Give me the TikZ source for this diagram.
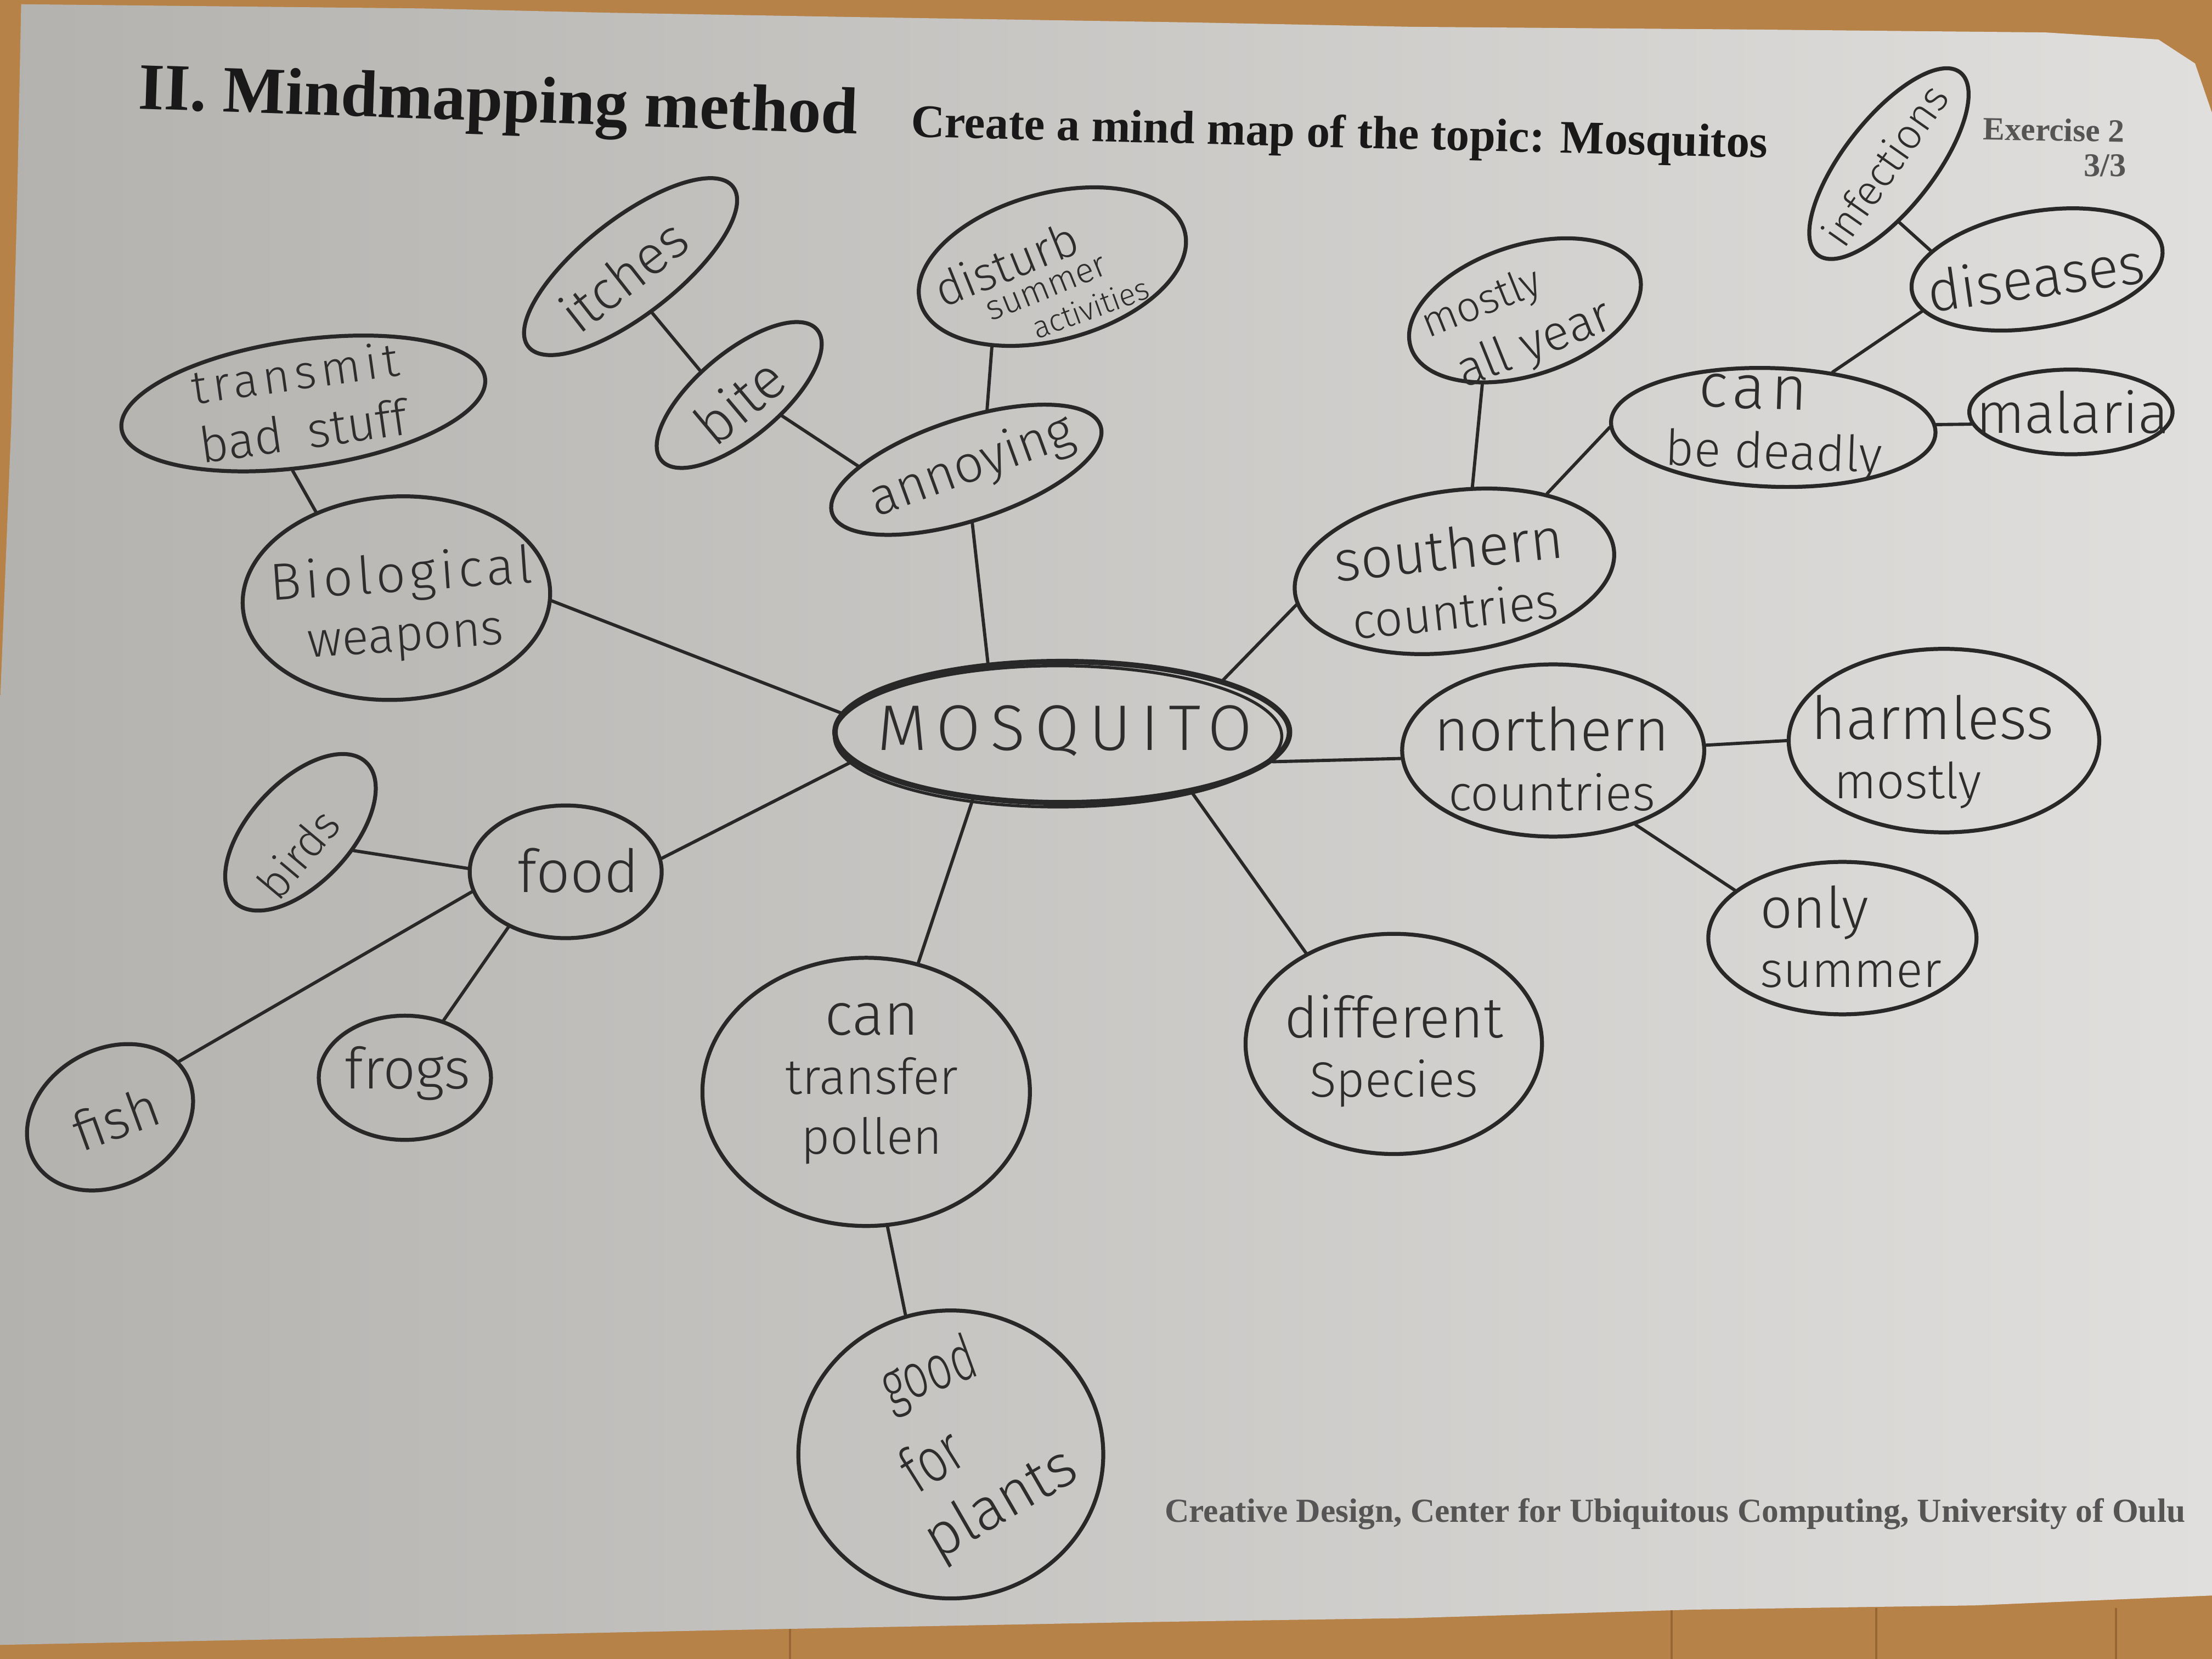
\documentclass[tikz,border=0pt]{standalone}
\usepackage{fontspec}
\setmainfont{Liberation Serif}
\newfontfamily\hand{Fira Sans Light}
\usetikzlibrary{shapes.geometric}

\definecolor{wood}{RGB}{182,130,72}
\definecolor{woodgrain}{RGB}{150,102,52}
\definecolor{paperL}{RGB}{180,178,175}
\definecolor{paperR}{RGB}{224,223,221}
\definecolor{ink}{RGB}{40,40,40}
\definecolor{pencil}{RGB}{45,45,45}
\definecolor{printink}{RGB}{25,25,25}
\definecolor{greyprint}{RGB}{85,85,85}
\newcommand{\hsz}[2]{\fontsize{#1}{#2}\selectfont}

\begin{document}
\begin{tikzpicture}[x=0.01cm, y=-0.01cm,
  bubble/.style={ellipse, draw=ink, line width=0.8pt, inner sep=0pt},
  hw/.style={inner sep=0pt, text=pencil, font=\hand, align=center},
  link/.style={draw=ink, line width=0.65pt, line cap=round},
  printed/.style={inner sep=0pt, text=printink, font=\bfseries}]

\useasboundingbox (0,0) rectangle (1568,1176);

% table top and sheet of paper
\fill[wood] (0,0) rectangle (1568,1176);
\foreach \gx in {560,1185,1330,1500}
  \draw[woodgrain, line width=0.4pt] (\gx,1140) -- (\gx,1176);
\shade[left color=paperL, right color=paperR]
  (15,3) -- (300,6) -- (430,9) -- (600,12) -- (850,16) -- (1000,19) -- (1250,21)
  -- (1450,23) -- (1530,28) -- (1556,45) -- (1568,80) -- (1568,1131) -- (1400,1138)
  -- (1200,1141) -- (1000,1147) -- (800,1150) -- (540,1155) -- (300,1160) -- (0,1166)
  -- (0,500) -- (8,300) -- (12,150) -- cycle;

% printed headings
\node[printed, anchor=base west, rotate=-2] (title) at (97,77)
  {\resizebox{5.1cm}{!}{II. Mindmapping method}};
\node[printed, anchor=base west, rotate=-1.4] (task) at (645,97)
  {\resizebox{6.07cm}{!}{Create a mind map of the topic: Mosquitos}};
\node[printed, text=greyprint, anchor=base west, rotate=-1] (exercise) at (1405,99)
  {\resizebox{1.0cm}{!}{Exercise 2}};
\node[printed, text=greyprint, anchor=base east] (page) at (1508,125)
  {\resizebox{0.3cm}{!}{3/3}};
\node[printed, text=greyprint, anchor=base west] (footer) at (825,1079)
  {\resizebox{7.23cm}{!}{Creative Design, Center for Ubiquitous Computing, University of Oulu}};

% bubbles
\node[bubble, line width=1.1pt, minimum width=3.22cm, minimum height=1.0cm] (mosq) at (753,519) {};
\draw[ink, line width=0.6pt] (mosq.center) ++(-3,3) ellipse [x radius=1.585cm, y radius=0.5cm];
\node[bubble, rotate=18, minimum width=2.0cm, minimum height=0.72cm] (annoy) at (685,333) {};
\node[bubble, rotate=15, minimum width=1.94cm, minimum height=1.04cm] (disturb) at (746,189) {};
\node[bubble, rotate=38, minimum width=1.84cm, minimum height=0.68cm] (itches) at (447,189) {};
\node[bubble, rotate=40, minimum width=1.44cm, minimum height=0.6cm] (bite) at (524,280) {};
\node[bubble, rotate=8, minimum width=2.6cm, minimum height=0.9cm] (transmit) at (215,286) {};
\node[bubble, rotate=3, minimum width=2.18cm, minimum height=1.44cm] (bio) at (281,424) {};
\node[bubble, minimum width=1.36cm, minimum height=0.94cm] (food) at (401,618) {};
\node[bubble, rotate=47, minimum width=1.36cm, minimum height=0.72cm] (birds) at (213,590) {};
\node[bubble, minimum width=1.22cm, minimum height=0.88cm] (frogs) at (287,764) {};
\node[bubble, rotate=30, minimum width=1.24cm, minimum height=0.96cm] (fish) at (78,792) {};
\node[bubble, minimum width=2.32cm, minimum height=1.9cm] (pollen) at (614,774) {};
\node[bubble, minimum width=2.16cm, minimum height=2.04cm] (good) at (674,1031) {};
\node[bubble, minimum width=2.1cm, minimum height=1.56cm] (diff) at (988,740) {};
\node[bubble, minimum width=2.14cm, minimum height=1.22cm] (north) at (1101,532) {};
\node[bubble, minimum width=2.2cm, minimum height=1.3cm] (harm) at (1378,525) {};
\node[bubble, minimum width=1.9cm, minimum height=1.08cm] (only) at (1306,665) {};
\node[bubble, rotate=8, minimum width=2.28cm, minimum height=1.14cm] (south) at (1031,405) {};
\node[bubble, rotate=18, minimum width=1.7cm, minimum height=0.92cm] (mostly) at (1081,220) {};
\node[bubble, rotate=-2, minimum width=2.3cm, minimum height=0.84cm] (deadly) at (1257,303) {};
\node[bubble, minimum width=1.44cm, minimum height=0.6cm] (malaria) at (1468,292) {};
\node[bubble, rotate=10, minimum width=1.8cm, minimum height=0.82cm] (dis) at (1444,191) {};
\node[bubble, rotate=52, minimum width=1.64cm, minimum height=0.64cm] (inf) at (1339,116) {};

% handwritten words
\node[hw] (mosqT) at (755,518) {\hsz{13}{15}\addfontfeature{LetterSpace=15}MOSQUITO};
\node[hw, rotate=20] (annoyT) at (689,331) {\hsz{10.5}{12}annoying};
\node[hw, rotate=22] (disturbA) at (713,187) {\hsz{9.5}{10}disturb};
\node[hw, rotate=22] (disturbB) at (742,205) {\hsz{7}{8}summer};
\node[hw, rotate=20] (disturbC) at (773,218) {\hsz{6.2}{7}activities};
\node[hw, rotate=38] (itchesT) at (442,195) {\hsz{11}{12}itches};
\node[hw, rotate=40] (biteT) at (524,284) {\hsz{11.5}{12}bite};
\node[hw, rotate=8] (transmitT) at (212,285)
  {\hsz{9.5}{9.5}\addfontfeature{LetterSpace=10}transmit\\bad\enspace stuff};
\node[hw, rotate=4] (bioT) at (286,430)
  {\hsz{10.5}{16}\addfontfeature{LetterSpace=8}Biological\\weapons};
\node[hw] (foodT) at (410,617) {\hsz{12}{13}food};
\node[hw, rotate=50] (birdsT) at (211,605) {\hsz{9}{10}birds};
\node[hw] (frogsT) at (289,761) {\hsz{11.5}{12}frogs};
\node[hw, rotate=20] (fishT) at (82,793) {\hsz{11}{12}fish};
\node[hw] (pollenT) at (618,768) {\hsz{12}{18}can\\transfer\\pollen};
\node[hw, rotate=20] (goodA) at (659,975) {\hsz{11}{12}\scalebox{0.8}[1.15]{good}};
\node[hw, rotate=32] (goodB) at (660,1034) {\hsz{11}{12}\scalebox{0.9}[1.15]{for}};
\node[hw, rotate=30] (goodC) at (710,1067) {\hsz{12}{12}plants};
\node[hw] (diffT) at (988,745) {\hsz{11.5}{17}different\\Species};
\node[hw] (northT) at (1100,538) {\hsz{12}{16}northern\\countries};
\node[hw] (harmT) at (1370,533) {\hsz{12}{17}harmless\\mostly\hspace*{1em}};
\node[hw, align=left] (onlyT) at (1312,664) {\hsz{11.5}{17}only\\summer};
\node[hw, rotate=6] (southT) at (1029,410) {\hsz{11.5}{15}southern\\countries};
\node[hw, rotate=22, align=left] (mostlyT) at (1076,229) {\hsz{8.5}{9}mostly\\\hspace*{3pt}all year};
\node[hw, rotate=-2, align=left] (deadlyT) at (1258,303)
  {\hsz{12.5}{13}\addfontfeature{LetterSpace=9}\hspace*{0.5em}can\\be deadly};
\node[hw] (malariaT) at (1469,292) {\hsz{11.5}{12}malaria};
\node[hw, rotate=8] (disT) at (1443,196) {\hsz{11.5}{12}diseases};
\node[hw, rotate=55] (infT) at (1336,117) {\hsz{8.5}{9}infections};

% connectors
\draw[link] (mosq.137) -- (annoy);
\draw[link] (annoy.53) -- (disturb.218);
\draw[link] (annoy.160) -- (bite.294);
\draw[link] (bite.108) -- (itches.257);
\draw[link] (mosq.175) -- (bio.356);
\draw[link] (bio.130) -- (transmit.253);
\draw[link] (mosq.188) -- (food.8);
\draw[link] (food.178) -- (birds.294);
\draw[link] (food.192) -- (fish.9);
\draw[link] (food.224) -- (frogs.56);
\draw[link] (mosq.217) -- (pollen.68);
\draw[link] (pollen.279) -- (good.108);
\draw[link] (mosq.335) -- (diff.134);
\draw[link] (mosq.352) -- (north.183);
\draw[link] (north.2) -- (harm.180);
\draw[link] (north.318) -- (only.156);
\draw[link] (mosq.18) -- (south.184);
\draw[link] (south.70) -- (mostly.222);
\draw[link] (south.32) -- (deadly.182);
\draw[link] (deadly.3) -- (malaria.187);
\draw[link] (deadly.45) -- (dis.190);
\draw[link] (dis.160) -- (inf.228);

\end{tikzpicture}
\end{document}
